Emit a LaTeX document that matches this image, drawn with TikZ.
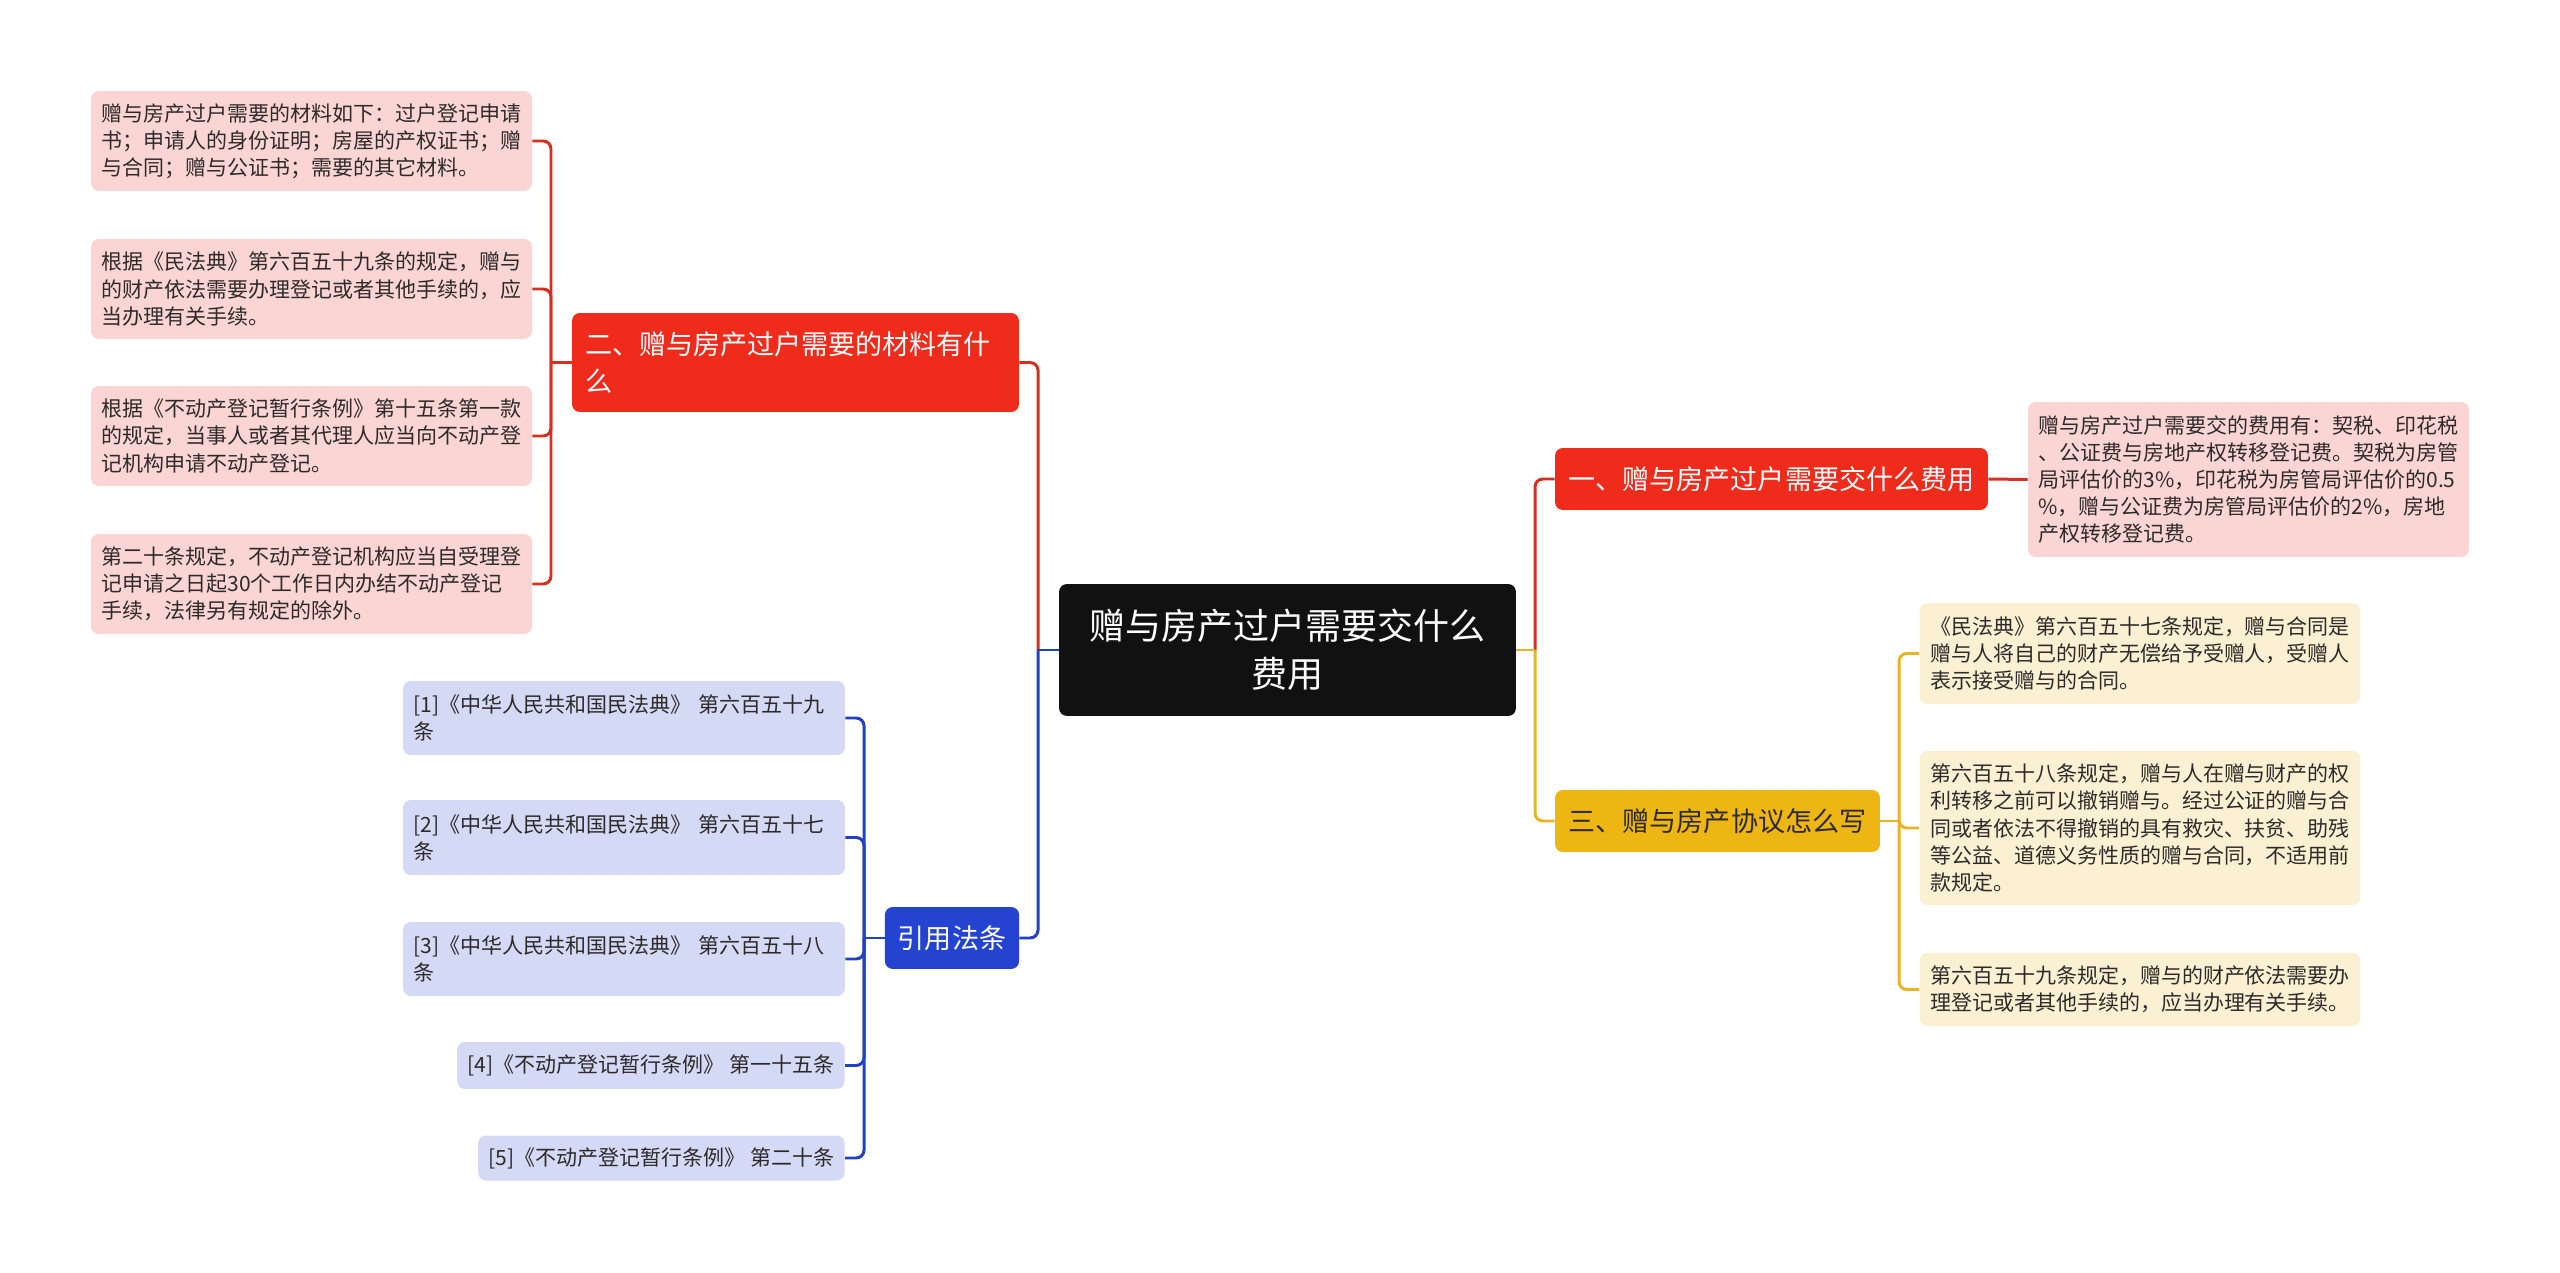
\documentclass[tikz,border=0pt]{standalone}
\usepackage{fontspec}
\setmainfont{Noto Sans CJK SC}
\usepackage{xcolor}
\usepackage{tikz}
\definecolor{rootblack}{HTML}{111111}
\definecolor{headred}{HTML}{EF2B1C}
\definecolor{linered}{HTML}{D3301F}
\definecolor{leafred}{HTML}{FAD5D3}
\definecolor{headblue}{HTML}{2443D0}
\definecolor{lineblue}{HTML}{2241C4}
\definecolor{leafblue}{HTML}{D4D9F5}
\definecolor{headyellow}{HTML}{EEB612}
\definecolor{lineyellow}{HTML}{E8B426}
\definecolor{leafyellow}{HTML}{FCF0D3}
\definecolor{leaftext}{HTML}{2E2A2A}
\tikzstyle{rootbox} = [rectangle, rounded corners=4.5pt, fill=rootblack, text=white, align=center,
  minimum width=9.14cm, minimum height=2.64cm, font=\fontsize{20.5}{27.3}\selectfont]
\tikzstyle{headbox} = [rectangle, rounded corners=4.5pt, inner xsep=0.26cm, inner ysep=0pt,
  minimum height=1.24cm, font=\fontsize{15.4}{21}\selectfont]
\tikzstyle{redhead} = [headbox, fill=headred, text=white]
\tikzstyle{bluehead} = [headbox, fill=headblue, text=white]
\tikzstyle{yellowhead} = [headbox, fill=headyellow, text=leaftext]
\tikzstyle{leafbox} = [rectangle, rounded corners=4.5pt, inner xsep=0.21cm, inner ysep=0pt,
  align=left, text=leaftext, font=\fontsize{11.95}{15.4}\selectfont]
\tikzstyle{redleaf} = [leafbox, fill=leafred, text width=8.4cm]
\tikzstyle{blueleaf} = [leafbox, fill=leafblue]
\tikzstyle{yellowleaf} = [leafbox, fill=leafyellow, text width=8.4cm]
\tikzstyle{link} = [line width=1.7pt, rounded corners=4.5pt]

\begin{document}
\begin{tikzpicture}[x=0.02cm, y=-0.02cm]
  \useasboundingbox[fill=white] (0,0) rectangle (2560,1273);

  \node (root) [rootbox] at (1287.5,650) {赠与房产过户需要交什么\\费用};

  \node (fee)  [redhead, minimum width=8.66cm] at (1771.5,479) {一、赠与房产过户需要交什么费用};
  \node (mat)  [redhead, align=left, text width=8.42cm, minimum height=1.98cm] at (795.5,362.5) {二、赠与房产过户需要的材料有什\\么};
  \node (deal) [yellowhead, minimum width=6.5cm] at (1717.5,821) {三、赠与房产协议怎么写};
  \node (law)  [bluehead, minimum width=2.68cm] at (952,938) {引用法条};

  \node (fee1) [redleaf, minimum height=3.1cm] at (2248.5,479.5) {赠与房产过户需要交的费用有：契税、印花税\\、公证费与房地产权转移登记费。契税为房管\\局评估价的3\%，印花税为房管局评估价的0.5\\\%，赠与公证费为房管局评估价的2\%，房地\\产权转移登记费。};

  \node (mat1) [redleaf, minimum height=2cm] at (311.5,141) {赠与房产过户需要的材料如下：过户登记申请\\书；申请人的身份证明；房屋的产权证书；赠\\与合同；赠与公证书；需要的其它材料。};
  \node (mat2) [redleaf, minimum height=2cm] at (311.5,289) {根据《民法典》第六百五十九条的规定，赠与\\的财产依法需要办理登记或者其他手续的，应\\当办理有关手续。};
  \node (mat3) [redleaf, minimum height=2cm] at (311.5,436) {根据《不动产登记暂行条例》第十五条第一款\\的规定，当事人或者其代理人应当向不动产登\\记机构申请不动产登记。};
  \node (mat4) [redleaf, minimum height=2cm] at (311.5,584) {第二十条规定，不动产登记机构应当自受理登\\记申请之日起30个工作日内办结不动产登记\\手续，法律另有规定的除外。};

  \node (deal1) [yellowleaf, minimum height=2.02cm] at (2140,653.5) {《民法典》第六百五十七条规定，赠与合同是\\赠与人将自己的财产无偿给予受赠人，受赠人\\表示接受赠与的合同。};
  \node (deal2) [yellowleaf, minimum height=3.08cm] at (2140,828) {第六百五十八条规定，赠与人在赠与财产的权\\利转移之前可以撤销赠与。经过公证的赠与合\\同或者依法不得撤销的具有救灾、扶贫、助残\\等公益、道德义务性质的赠与合同，不适用前\\款规定。};
  \node (deal3) [yellowleaf, minimum height=1.46cm] at (2140,989.5) {第六百五十九条规定，赠与的财产依法需要办\\理登记或者其他手续的，应当办理有关手续。};

  \node (law1) [blueleaf, text width=8.42cm, minimum height=1.48cm] at (624,718) {[1]《中华人民共和国民法典》 第六百五十九\\条};
  \node (law2) [blueleaf, text width=8.42cm, minimum height=1.5cm] at (624,837.5) {[2]《中华人民共和国民法典》 第六百五十七\\条};
  \node (law3) [blueleaf, text width=8.42cm, minimum height=1.48cm] at (624,959) {[3]《中华人民共和国民法典》 第六百五十八\\条};
  \node (law4) [blueleaf, anchor=east, minimum height=0.94cm] at (845,1065.5) {[4]《不动产登记暂行条例》 第一十五条};
  \node (law5) [blueleaf, anchor=east, minimum height=0.9cm] at (845,1158) {[5]《不动产登记暂行条例》 第二十条};

  \coordinate (lj) at (1038,650);
  \coordinate (rj) at (1535,650);
  \coordinate (mj) at (551,362.5);
  \coordinate (bj) at (864,938);
  \coordinate (yj) at (1899,821);

  \draw[link, linered] (lj) |- (mat.east);
  \draw[link, lineblue] (lj) |- (law.east);
  \draw[link, lineblue] (root.west) -- (lj);
  \draw[link, linered] (rj) |- (fee.west);
  \draw[link, lineyellow] (rj) |- (deal.west);
  \draw[link, lineyellow] (root.east) -- (rj);

  \draw[link, linered] (fee.east) -- (fee1.west);
  \draw[link, linered] (mat.west) -- (mj);
  \foreach \leaf in {mat1,mat2,mat3,mat4}
    \draw[link, linered] (mj) |- (\leaf.east);
  \draw[link, lineyellow] (deal.east) -- (yj);
  \foreach \leaf in {deal1,deal2,deal3}
    \draw[link, lineyellow] (yj) |- (\leaf.west);
  \draw[link, lineblue] (law.west) -- (bj);
  \foreach \leaf in {law1,law2,law3,law4,law5}
    \draw[link, lineblue] (bj) |- (\leaf.east);
\end{tikzpicture}
\end{document}
